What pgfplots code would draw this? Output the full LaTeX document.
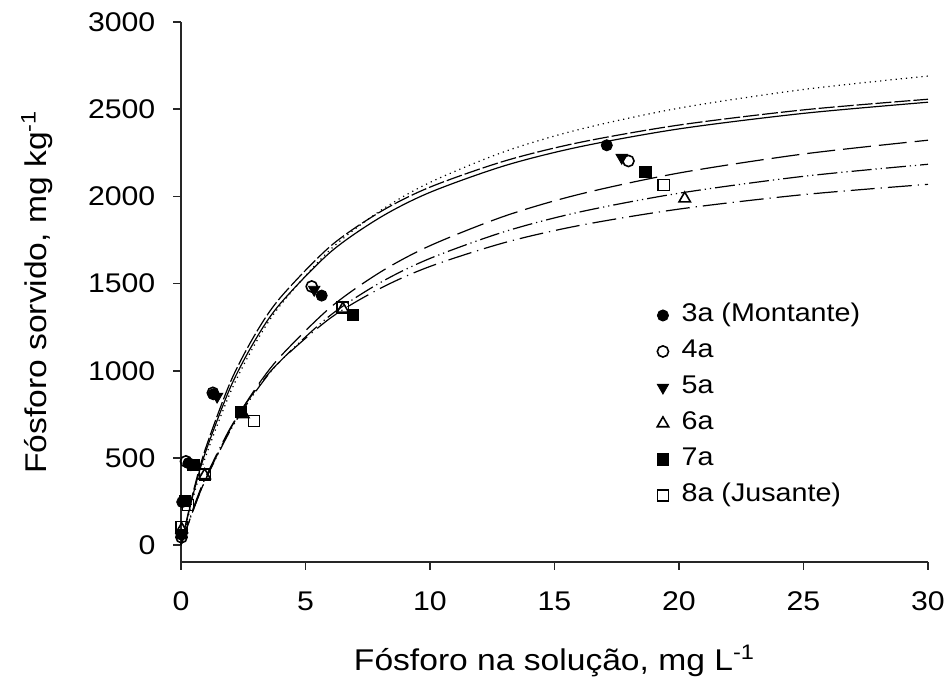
\documentclass[border=0pt]{standalone}
\usepackage{fontspec}
\setmainfont[FakeStretch=1.12]{Liberation Sans}
\usepackage{pgfplots}
\pgfplotsset{compat=1.18}

\begin{document}
\begin{tikzpicture}
\path[use as bounding box] (-90.5pt,-60pt) rectangle (384.5pt,281pt);
\begin{axis}[
  scale only axis, width=373.5pt, height=270pt,
  xmin=0, xmax=30, ymin=-97, ymax=3000,
  axis x line*=bottom, axis y line*=left,
  axis line style={line width=0.8pt, black!85},
  tick align=outside, major tick length=3.8pt,
  tick style={line width=0.8pt, black!85},
  xtick={0,5,...,30}, ytick={0,500,...,3000},
  minor tick num=0,
  scaled ticks=false,
  /pgf/number format/assume math mode=true,
  /pgf/number format/1000 sep={},
  font=\fontsize{13.5}{16}\selectfont,
  ticklabel style={font=\fontsize{13.5}{16}\selectfont},
  xticklabel style={anchor=center, yshift=-16pt},
  yticklabel style={anchor=east, xshift=-5.5pt},
  xlabel={Fósforo na solução, mg L\textsuperscript{-1}},
  ylabel={Fósforo sorvido, mg kg\textsuperscript{-1}},
  label style={font=\fontsize{15}{18}\selectfont},
  xlabel style={at={(axis description cs:0.5,-0.183)}, anchor=center},
  ylabel style={at={(axis description cs:-0.193,0.5)}, anchor=center},
  clip=false,
  legend cell align=left,
  legend style={draw=none, fill=none, inner sep=0pt,
    at={(rel axis cs:0.637,0.486)}, anchor=north west,
    row sep=2.5pt, column sep=5pt,
    nodes={inner sep=1.5pt, text height=9.5pt, text depth=3pt},
    font=\fontsize{12.8}{15}\selectfont},
]
% fitted isotherm curves
\addplot[forget plot, black, line width=0.6pt, dotted, smooth] coordinates {
 (0,0) (0.5,279) (1,512) (2,881) (3,1160) (4,1377) (6,1695) (8,1917) (10,2080) (13,2257) (16,2384) (20,2506) (25,2613) (30,2690)};
\addplot[forget plot, black, line width=0.6pt, dash pattern=on 8pt off 1.5pt, smooth] coordinates {
 (0,0) (0.5,310) (1,560) (2,940) (3,1214) (4,1421) (6,1714) (8,1911) (10,2053) (13,2203) (16,2309) (20,2409) (25,2496) (30,2557)};
\addplot[forget plot, black, line width=0.6pt, smooth] coordinates {
 (0,0) (0.5,297) (1,540) (2,910) (3,1181) (4,1387) (6,1680) (8,1879) (10,2023) (13,2176) (16,2284) (20,2387) (25,2476) (30,2540)};
\addplot[forget plot, black, line width=0.6pt, dash pattern=on 14pt off 4pt, smooth] coordinates {
 (0,0) (0.5,204) (1,381) (2,671) (3,899) (4,1083) (6,1363) (8,1565) (10,1717) (13,1887) (16,2012) (20,2134) (25,2243) (30,2322)};
\addplot[forget plot, black, line width=0.6pt, dash pattern=on 10pt off 2pt on 0.6pt off 2pt on 0.6pt off 2pt, smooth] coordinates {
 (0,0) (0.5,204) (1,379) (2,662) (3,881) (4,1057) (6,1318) (8,1505) (10,1644) (13,1798) (16,1910) (20,2018) (25,2115) (30,2184)};
\addplot[forget plot, black, line width=0.6pt, dash pattern=on 12pt off 3pt on 0.6pt off 3pt, smooth] coordinates {
 (0,0) (0.5,214) (1,392) (2,676) (3,890) (4,1057) (6,1302) (8,1472) (10,1598) (13,1735) (16,1833) (20,1927) (25,2010) (30,2069)};
% observed points
\addplot[only marks, mark=*, mark size=2.8pt, mark options={fill=black, draw=black}] coordinates {
 (0.02,60) (0.05,247) (0.3,470) (1.3,865) (5.65,1431) (17.1,2293)};
\addlegendentry{3a (Montante)}
\addplot[only marks, mark=o, mark size=2.8pt, mark options={draw=black, line width=0.8pt}] coordinates {
 (0.02,45) (0.2,480) (1.28,873) (5.25,1483) (17.97,2203)};
\addlegendentry{4a}
\addplot[only marks, mark=triangle*, mark size=3.3pt, mark options={fill=black, draw=black, rotate=180}] coordinates {
 (0.03,70) (0.4,465) (1.45,852) (5.35,1465) (17.7,2222)};
\addlegendentry{5a}
\addplot[only marks, mark=triangle, mark size=3.3pt, mark options={draw=black, line width=0.8pt}] coordinates {
 (0.03,90) (0.95,400) (2.5,750) (6.5,1355) (20.23,1987)};
\addlegendentry{6a}
\addplot[only marks, mark=square*, mark size=2.8pt, mark options={fill=black, draw=black}] coordinates {
 (0.15,255) (0.5,460) (2.4,764) (6.9,1322) (18.65,2140)};
\addlegendentry{7a}
\addplot[only marks, mark=square, mark size=2.8pt, mark options={draw=black, line width=0.8pt}] coordinates {
 (0.03,103) (0.28,230) (0.96,405) (2.93,712) (6.5,1362) (19.39,2065)};
\addlegendentry{8a (Jusante)}
\end{axis}
\end{tikzpicture}
\end{document}
